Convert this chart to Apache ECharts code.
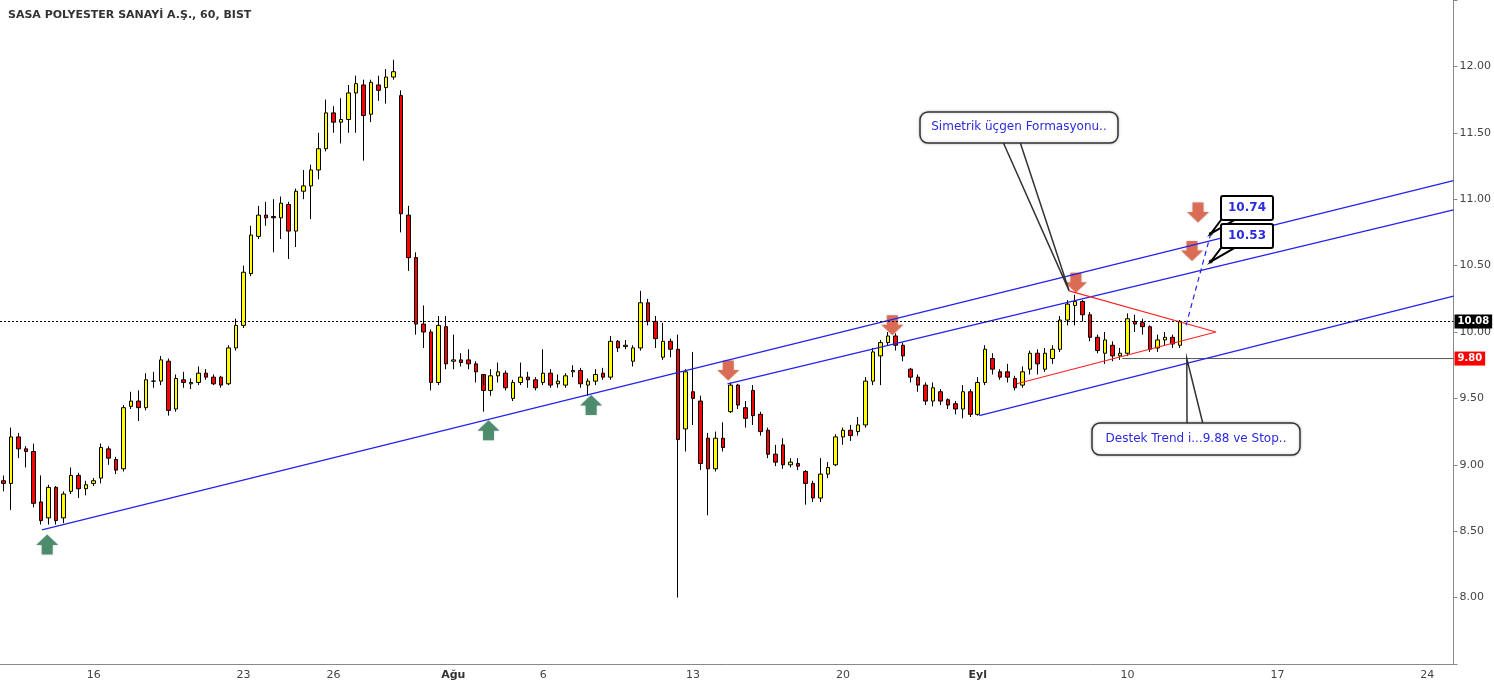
<!DOCTYPE html>
<html>
<head>
<meta charset="utf-8">
<script src="https://cdn.jsdelivr.net/npm/echarts@6/dist/echarts.min.js"></script>
<style>
  html, body { margin: 0; padding: 0; background: #fff; }
  #chart { width: 1494px; height: 685px; }
</style>
</head>
<body>
<div id="chart"></div>
<script>
// hourly bars, [open, close, low, high]
const bars = [
  [8.88,8.86,8.80,8.92],[8.86,9.21,8.66,9.28],[9.21,9.12,9.05,9.24],[9.12,9.10,8.98,9.14],
  [9.10,8.71,8.68,9.16],[8.72,8.58,8.55,8.92],[8.60,8.83,8.55,8.85],[8.83,8.58,8.55,8.84],
  [8.60,8.78,8.56,8.80],[8.80,8.92,8.78,8.98],[8.92,8.82,8.75,8.94],[8.82,8.85,8.77,8.88],
  [8.86,8.88,8.84,8.90],[8.90,9.13,8.86,9.16],[9.12,9.05,9.00,9.14],[9.04,8.96,8.93,9.06],
  [8.97,9.43,8.95,9.45],[9.44,9.48,9.42,9.55],[9.48,9.43,9.33,9.56],[9.43,9.64,9.41,9.69],
  [9.63,9.63,9.58,9.70],[9.63,9.79,9.60,9.82],[9.78,9.41,9.37,9.80],[9.42,9.65,9.40,9.68],
  [9.64,9.62,9.58,9.70],[9.61,9.62,9.57,9.65],[9.62,9.69,9.60,9.74],[9.69,9.66,9.64,9.72],
  [9.66,9.61,9.60,9.68],[9.66,9.60,9.58,9.67],[9.61,9.88,9.60,9.90],[9.88,10.05,9.86,10.10],
  [10.05,10.45,10.03,10.50],[10.44,10.73,10.42,10.80],[10.72,10.88,10.70,10.95],[10.88,10.86,10.80,10.98],
  [10.87,10.86,10.60,11.00],[10.86,10.97,10.70,11.02],[10.96,10.76,10.55,10.98],[10.76,11.06,10.64,11.08],
  [11.06,11.10,11.00,11.22],[11.10,11.22,10.85,11.26],[11.22,11.38,11.15,11.50],[11.38,11.65,11.36,11.75],
  [11.65,11.58,11.50,11.70],[11.58,11.60,11.42,11.76],[11.60,11.80,11.50,11.86],[11.80,11.87,11.50,11.93],
  [11.86,11.63,11.29,11.90],[11.64,11.88,11.58,11.90],[11.86,11.82,11.74,11.93],[11.84,11.92,11.72,11.98],
  [11.92,11.96,11.90,12.05],[11.78,10.89,10.75,11.82],[10.88,10.56,10.46,10.95],[10.56,10.06,9.98,10.60],
  [10.06,10.00,9.88,10.20],[10.00,9.62,9.56,10.02],[9.62,10.05,9.60,10.12],[10.04,9.76,9.72,10.12],
  [9.78,9.79,9.72,9.98],[9.79,9.77,9.74,9.84],[9.79,9.76,9.72,9.87],[9.76,9.70,9.62,9.78],
  [9.68,9.56,9.40,9.60],[9.56,9.67,9.52,9.72],[9.67,9.70,9.62,9.77],[9.69,9.58,9.56,9.71],
  [9.50,9.62,9.48,9.64],[9.62,9.66,9.60,9.77],[9.66,9.64,9.58,9.70],[9.64,9.58,9.56,9.66],
  [9.62,9.69,9.60,9.87],[9.69,9.60,9.58,9.72],[9.61,9.63,9.58,9.68],[9.60,9.67,9.58,9.69],
  [9.70,9.71,9.66,9.75],[9.71,9.61,9.58,9.73],[9.60,9.63,9.52,9.65],[9.63,9.68,9.60,9.72],
  [9.69,9.66,9.64,9.73],[9.66,9.93,9.64,9.97],[9.93,9.88,9.85,9.94],[9.89,9.90,9.87,9.94],
  [9.78,9.88,9.74,9.90],[9.88,10.22,9.86,10.31],[10.22,10.08,10.05,10.25],[10.08,9.95,9.88,10.12],
  [9.81,9.93,9.79,10.07],[9.93,9.87,9.81,9.95],[9.87,9.19,8.00,9.98],[9.27,9.70,9.10,9.72],
  [9.55,9.50,9.30,9.85],[9.48,9.01,8.96,9.52],[9.20,8.97,8.62,9.24],[8.97,9.20,8.95,9.25],
  [9.20,9.13,9.10,9.32],[9.40,9.60,9.39,9.62],[9.60,9.45,9.42,9.61],[9.43,9.35,9.28,9.48],
  [9.56,9.37,9.30,9.60],[9.38,9.25,9.22,9.40],[9.26,9.08,9.05,9.28],[9.08,9.02,8.99,9.15],
  [9.15,9.00,8.97,9.20],[9.00,9.02,8.98,9.05],[9.01,8.99,8.96,9.05],[8.95,8.86,8.70,8.96],
  [8.86,8.75,8.72,8.88],[8.75,8.93,8.72,9.05],[8.93,8.98,8.90,9.02],[9.00,9.21,8.99,9.23],
  [9.21,9.26,9.15,9.28],[9.26,9.22,9.18,9.30],[9.25,9.30,9.22,9.36],[9.30,9.63,9.28,9.66],
  [9.63,9.85,9.60,9.88],[9.82,9.92,9.60,9.94],[9.92,9.97,9.90,10.00],[9.97,9.90,9.86,9.99],
  [9.90,9.82,9.78,9.92],[9.72,9.66,9.62,9.73],[9.66,9.60,9.55,9.68],[9.60,9.48,9.45,9.62],
  [9.48,9.58,9.44,9.62],[9.55,9.48,9.45,9.57],[9.49,9.45,9.42,9.50],[9.46,9.42,9.38,9.48],
  [9.42,9.55,9.35,9.60],[9.55,9.38,9.36,9.57],[9.38,9.62,9.37,9.66],[9.62,9.87,9.60,9.90],
  [9.80,9.72,9.68,9.84],[9.70,9.66,9.64,9.72],[9.70,9.66,9.62,9.76],[9.65,9.58,9.56,9.67],
  [9.60,9.70,9.58,9.74],[9.72,9.84,9.68,9.86],[9.84,9.76,9.68,9.87],[9.72,9.84,9.70,9.88],
  [9.80,9.87,9.76,9.90],[9.87,10.09,9.85,10.12],[10.09,10.21,10.05,10.24],[10.20,10.23,10.05,10.28],
  [10.23,10.13,10.08,10.24],[10.13,9.96,9.93,10.15],[9.96,9.86,9.84,9.98],[9.84,9.94,9.76,10.00],
  [9.90,9.82,9.78,9.93],[9.82,9.84,9.79,9.88],[9.84,10.10,9.82,10.14],[10.08,10.06,10.00,10.13],
  [10.07,10.04,9.98,10.10],[10.04,9.87,9.85,10.05],[9.88,9.94,9.85,9.98],[9.94,9.96,9.90,10.00],
  [9.96,9.91,9.88,9.98],[9.90,10.08,9.88,10.09]
];
const totalSlots = 194;
const dateLabels = { 12: '16', 32: '23', 44: '26', 60: 'Ağu', 72: '6', 92: '13', 112: '20', 130: 'Eyl', 150: '10', 170: '17', 190: '24' };
const monthLabels = ['Ağu', 'Eyl'];
const lastPrice = 10.08;
const stopPrice = 9.80;

// trend lines: [barIndex, price]
const channelTop = [[5.1, 8.51], [193.5, 11.14]];
const channelMid = [[96.6, 9.61], [193.5, 10.92]];
const supportLine = [[130.2, 9.37], [193.5, 10.27]];
const triangle = [[135.2, 9.61], [161.8, 10.0], [142.2, 10.31]];
const targetPath = [[157.8, 10.05], [161.1, 10.74]];
const targets = [[161.1, 10.74], [161.1, 10.53]];
const upArrows = [[5.8, 8.40], [64.7, 9.26], [78.4, 9.45]];
const downArrows = [[96.7, 9.71], [118.6, 10.05], [143.1, 10.37], [158.6, 10.61], [159.4, 10.90]];
const stopLine = [[149.3, 9.80], [193.5, 9.80]];

const cats = [];
for (let i = 0; i < totalSlots; i++) cats.push(dateLabels[i] || '');

const chart = echarts.init(document.getElementById('chart'));
const font = 'DejaVu Sans';
const upPath = 'path://M0,-10 L10,0 L5,0 L5,9 L-5,9 L-5,0 L-10,0 Z';
const downPath = 'path://M0,10 L10,0 L5,0 L5,-9 L-5,-9 L-5,0 L-10,0 Z';
const blue = '#2222ee';
const priceTag = (bg) => ({ show: true, distance: 1, backgroundColor: bg, color: '#fff', fontSize: 10, fontWeight: 'bold', padding: [2, 3], fontFamily: font });

chart.setOption({
  animation: false,
  textStyle: { fontFamily: font },
  grid: { left: 0, right: 39, top: -2, height: 666 },
  xAxis: [{
    type: 'category',
    data: cats,
    boundaryGap: true,
    axisLine: { lineStyle: { color: '#888' } },
    axisTick: { show: false },
    axisLabel: {
      interval: 0, color: '#444', fontSize: 11, margin: 6,
      formatter: v => monthLabels.includes(v) ? '{b|' + v + '}' : v,
      rich: { b: { fontWeight: 'bold', fontSize: 11, color: '#333' } }
    },
    splitLine: { show: false }
  }, {
    type: 'value', min: -0.5, max: totalSlots - 0.5, show: false
  }],
  yAxis: {
    type: 'value', position: 'right', min: 7.5, max: 12.5, interval: 0.5,
    axisLine: { show: true, onZero: false, lineStyle: { color: '#888' } },
    axisTick: { show: true, length: 4, lineStyle: { color: '#888' } },
    axisLabel: { color: '#444', fontSize: 11, margin: 6, formatter: v => (v <= 7.5 || v >= 12.5) ? '' : v.toFixed(2) },
    splitLine: { show: false }
  },
  series: [
    {
      type: 'candlestick', data: bars, barWidth: 4,
      itemStyle: { color: '#ffff00', color0: '#ff0000', borderColor: '#000', borderColor0: '#000', borderWidth: 1 },
      markLine: {
        symbol: 'none', silent: true,
        data: [
          { yAxis: lastPrice, lineStyle: { color: '#000', type: [2, 2], width: 1 },
            label: Object.assign(priceTag('#000'), { position: 'end', formatter: lastPrice.toFixed(2) }) }
        ]
      }
    },
    { type: 'line', xAxisIndex: 1, data: stopLine, symbol: 'none', lineStyle: { color: '#555', width: 1 },
      endLabel: Object.assign(priceTag('#ff0000'), { formatter: stopPrice.toFixed(2) }) },
    { type: 'line', xAxisIndex: 1, data: channelTop, symbol: 'none', lineStyle: { color: blue, width: 1.2 } },
    { type: 'line', xAxisIndex: 1, data: channelMid, symbol: 'none', lineStyle: { color: blue, width: 1.2 } },
    { type: 'line', xAxisIndex: 1, data: supportLine, symbol: 'none', lineStyle: { color: blue, width: 1.2 } },
    { type: 'line', xAxisIndex: 1, data: triangle, symbol: 'none', lineStyle: { color: '#ff2222', width: 1.2 } },
    { type: 'line', xAxisIndex: 1, data: targetPath, symbol: 'none', lineStyle: { color: blue, width: 1.2, type: [5, 4] } },
    { type: 'scatter', xAxisIndex: 1, data: targets, symbol: 'circle', symbolSize: 4, itemStyle: { color: '#000' } },
    { type: 'scatter', xAxisIndex: 1, data: upArrows, symbol: upPath, symbolSize: [22, 20], itemStyle: { color: '#2e7d55', shadowColor: 'rgba(0,0,0,0.3)', shadowBlur: 2 } },
    { type: 'scatter', xAxisIndex: 1, data: downArrows, symbol: downPath, symbolSize: [22, 20], itemStyle: { color: '#e0553a', shadowColor: 'rgba(0,0,0,0.3)', shadowBlur: 2 } }
  ]
});

// annotations placed from data coordinates
const px = p => chart.convertToPixel({ xAxisIndex: 1, yAxisIndex: 0 }, p);
const tipTri = px(triangle[2]);
const tipStop = px([157.9, stopPrice]);
const t1 = px(targets[0]), t2 = px(targets[1]);
const boxStyle = { fill: '#fff', stroke: '#333', lineWidth: 1.5, shadowColor: 'rgba(0,0,0,0.25)', shadowBlur: 3 };
const noteText = (x, y, text, bold) => ({ type: 'text', x: x, y: y, z: 52,
  style: { text: text, fill: '#2a2ae0', font: (bold ? 'bold ' : '') + '12px ' + font, align: 'center', verticalAlign: 'middle' } });

const g = [
  { type: 'text', left: 8, top: 10, style: { text: 'SASA POLYESTER SANAYİ A.Ş., 60, BIST', fill: '#333', font: 'bold 11px ' + font } },
  { type: 'polyline', shape: { points: [[1003, 142], tipTri, [1020, 142]] }, z: 49, style: { stroke: '#333', lineWidth: 1.5, fill: null } },
  { type: 'rect', shape: { x: 920, y: 112, width: 198, height: 31, r: 8 }, z: 51, style: boxStyle },
  noteText(1019, 127, 'Simetrik üçgen Formasyonu..'),
  { type: 'polygon', shape: { points: [[1187, 424], tipStop, [1203, 424]] }, z: 50, style: { fill: '#fff', stroke: '#333', lineWidth: 1.5 } },
  { type: 'rect', shape: { x: 1092, y: 423, width: 208, height: 32, r: 8 }, z: 51, style: boxStyle },
  noteText(1196, 439, 'Destek Trend i...9.88 ve Stop..'),
  { type: 'polygon', shape: { points: [[1224, 216], t1, [1236, 219]] }, z: 50, style: { fill: '#fff', stroke: '#000', lineWidth: 2 } },
  { type: 'rect', shape: { x: 1221, y: 196, width: 52, height: 24, r: 2 }, z: 51, style: { fill: '#fff', stroke: '#000', lineWidth: 2 } },
  noteText(1247, 208, targets[0][1].toFixed(2), true),
  { type: 'polygon', shape: { points: [[1224, 244], t2, [1236, 247]] }, z: 50, style: { fill: '#fff', stroke: '#000', lineWidth: 2 } },
  { type: 'rect', shape: { x: 1221, y: 224, width: 52, height: 24, r: 2 }, z: 51, style: { fill: '#fff', stroke: '#000', lineWidth: 2 } },
  noteText(1247, 236, targets[1][1].toFixed(2), true)
];
chart.setOption({ graphic: g });
</script>
</body>
</html>
